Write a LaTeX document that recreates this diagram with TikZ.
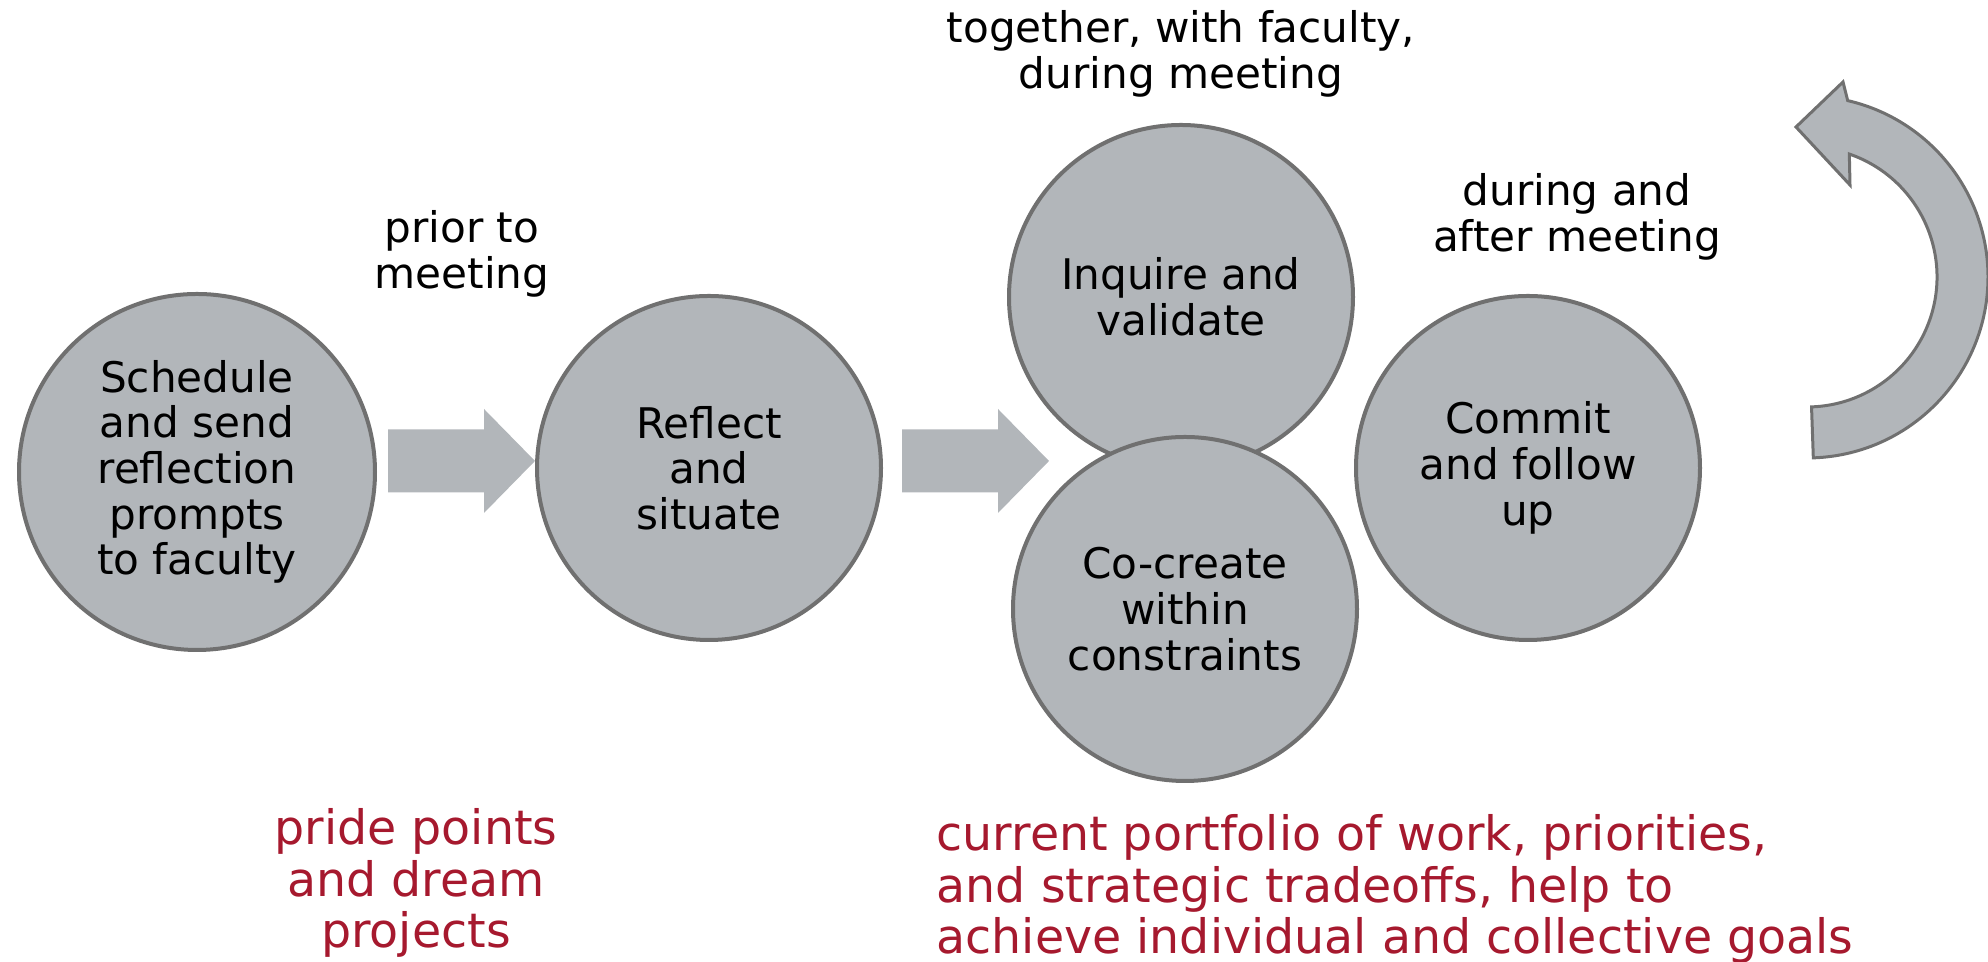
\documentclass[tikz,border=0pt]{standalone}
\usepackage{fontspec}
\setmainfont{DejaVu Sans}
\usetikzlibrary{positioning}

\definecolor{stagegray}{RGB}{178,182,186}
\definecolor{rimgray}{RGB}{112,112,112}
\definecolor{cardinal}{RGB}{166,25,46}

\begin{document}
\begin{tikzpicture}[
            stage/.style={
                circle,
                draw=rimgray,
                line width=0.04cm,
                fill=stagegray,
                align=center,
                inner sep=0pt,
                minimum size=3.44cm,
                font=\fontsize{12}{13}\selectfont
            },
            note/.style={align=center, inner sep=0pt, font=\fontsize{12}{13}\selectfont},
            goal/.style={align=center, inner sep=0pt, text=cardinal, font=\fontsize{13.5}{14.6}\selectfont},
            blockarrow/.style={fill=stagegray},
            looparrow/.style={fill=stagegray, draw=rimgray, line width=0.03cm, line join=miter}
        ]
        \useasboundingbox (0,0) rectangle (19.88,9.62);

        % Stages
        \node[stage, minimum size=3.56cm] (schedule) at (1.97,4.90) {Schedule\\and send\\reflection\\prompts\\to faculty};
        \node[stage] (reflect) at (7.09,4.94) {Reflect\\and\\situate};
        \node[stage] (inquire) at (11.81,6.65) {Inquire and\\validate};
        \node[stage] (cocreate) at (11.85,3.53) {Co-create\\within\\constraints};
        \node[stage] (commit) at (15.28,4.94) {Commit\\and follow\\up};

        % Block arrows
        \fill[blockarrow] ([yshift=0.07cm]reflect.west) -- ++(-0.51,0.52) -- ++(0,-0.205) -- ++(-0.96,0)
            -- ++(0,-0.63) -- ++(0.96,0) -- ++(0,-0.205) -- cycle;
        \fill[blockarrow] ([xshift=1.66cm,yshift=0.07cm]reflect.east) -- ++(-0.51,0.52) -- ++(0,-0.205) -- ++(-0.96,0)
            -- ++(0,-0.63) -- ++(0.96,0) -- ++(0,-0.205) -- cycle;

        % Loop back arrow
        \coordinate (loopc) at (18.07,6.85);
        \draw[looparrow] ([shift={(-88:1.81)}]loopc) arc[start angle=-88, end angle=77, radius=1.81]
            -- ([shift={(0.36,1.95)}]loopc) -- ([shift={(-0.11,1.50)}]loopc) -- ([shift={(0.43,0.92)}]loopc)
            -- ([shift={(71:1.30)}]loopc) arc[start angle=71, end angle=-88, radius=1.30] -- cycle;

        % Labels
        \node[note] (prior) at (4.62,7.08) {prior to\\meeting};
        \node[note] (together) at (11.81,9.08) {together, with faculty,\\during meeting};
        \node[note] (during) at (15.77,7.45) {during and\\after meeting};

        \node[goal] (pride) at (4.16,0.79) {pride points\\and dream\\projects};
        \node[goal, align=left, anchor=west] (portfolio) at (9.36,0.73)
            {current portfolio of work, priorities,\\and strategic tradeoffs, help to\\achieve individual and collective goals};

\end{tikzpicture}
\end{document}
